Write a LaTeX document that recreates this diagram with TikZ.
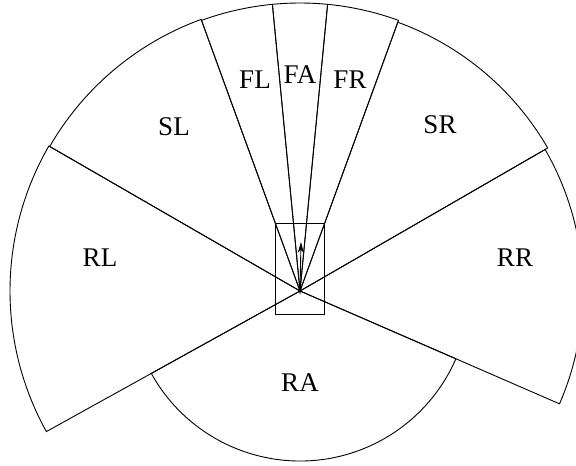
\documentclass[tikz,border=0pt]{standalone}
\usepackage{fontspec}
\setmainfont{Liberation Serif}
\usetikzlibrary{arrows.meta}
\tikzset{
  sector/.style={draw=black, line width=0.9pt, line join=miter},
  lbl/.style={font=\fontsize{27}{32}\selectfont, inner sep=0pt},
}
\begin{document}
\begin{tikzpicture}[x=1pt,y=1pt]
\useasboundingbox (0,0) rectangle (576,466);
\clip (0,0) rectangle (576,466);
\coordinate (c) at (300,175);
% sectors
\draw[sector] (c) -- ++(84.5:288) arc[start angle=84.5, end angle=95.5, radius=288] -- cycle;
\draw[sector] (c) -- ++(95.5:288) arc[start angle=95.5, end angle=110, radius=288] -- cycle;
\draw[sector] (c) -- ++(70:288) arc[start angle=70, end angle=84.5, radius=288] -- cycle;
\draw[sector] (c) -- ++(110:289) arc[start angle=110, end angle=150, radius=289] -- cycle;
\draw[sector] (c) -- ++(30:286) arc[start angle=30, end angle=70, radius=286] -- cycle;
\draw[sector] (c) -- ++(150:290) arc[start angle=150, end angle=209, radius=290] -- cycle;
\draw[sector] (c) -- ++(-23.5:283) arc[start angle=-23.5, end angle=30, radius=283] -- cycle;
\draw[sector] (c) -- ++(209:170) arc[start angle=209, end angle=336.5, radius=170] -- cycle;
% listener box and arrow
\node[draw, line width=0.9pt, minimum width=49.4pt, minimum height=90.7pt, inner sep=0pt] (box) at (300,197.3) {};
\coordinate (tip) at (301,224);
\draw[line width=0.9pt, -{Stealth[length=11pt,width=6pt]}] (c) -- (tip);
% labels
\node[lbl] (FL) at (255,386) {FL};
\node[lbl] (FA) at (300,391) {FA};
\node[lbl] (FR) at (350,386) {FR};
\node[lbl] (SL) at (174,339) {SL};
\node[lbl] (SR) at (440,341) {SR};
\node[lbl] (RL) at (100,208) {RL};
\node[lbl] (RR) at (515,208) {RR};
\node[lbl] (RA) at (300,83) {RA};
\end{tikzpicture}
\end{document}
